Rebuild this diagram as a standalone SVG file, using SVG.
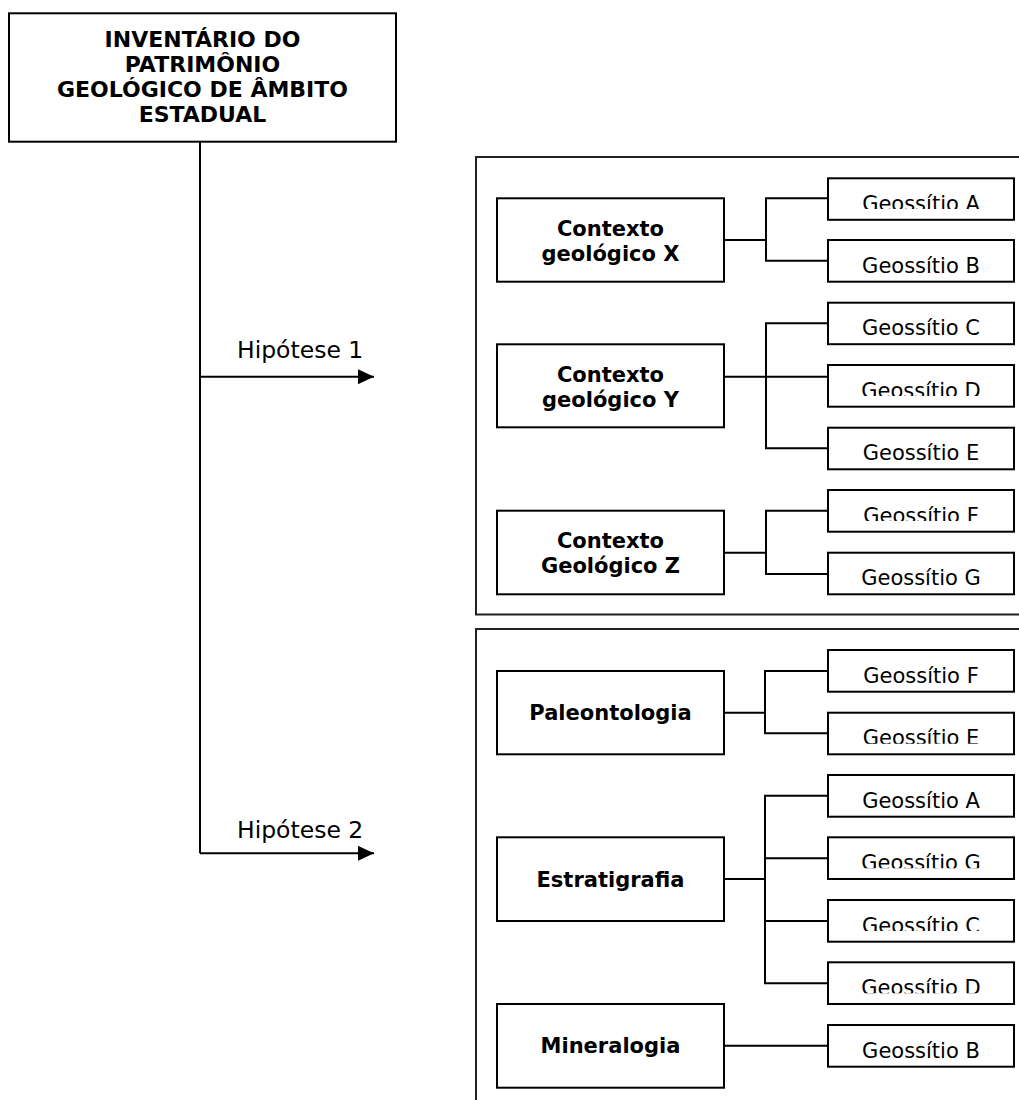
<svg xmlns="http://www.w3.org/2000/svg" width="1019" height="1100" viewBox="0 0 1019 1100">
<style>
  .box { fill: #fff; stroke: #000; stroke-width: 2; }
  .frame { fill: none; stroke: #222; stroke-width: 2; }
  .ln { fill: none; stroke: #000; stroke-width: 2; }
  .b { font-family: "DejaVu Sans", Verdana, sans-serif; font-weight: bold; font-size: 21px; fill: #000; text-anchor: middle; }
  .t { font-size: 22px; }
  .g { font-family: "DejaVu Sans", Verdana, sans-serif; font-size: 21px; fill: #000; text-anchor: middle; }
  .h { font-family: "DejaVu Sans", Verdana, sans-serif; font-size: 23.5px; fill: #000; }
</style>
<defs>
  <marker id="arr" markerWidth="16" markerHeight="15" refX="16" refY="7.5" orient="auto" markerUnits="userSpaceOnUse">
    <path d="M0,0 L16,7.5 L0,15 Z" fill="#000"/>
  </marker>
  <clipPath id="cA1"><rect x="828" y="178" width="186" height="31"/></clipPath>
  <clipPath id="cD1"><rect x="828" y="365" width="186" height="31"/></clipPath>
  <clipPath id="cF1"><rect x="828" y="490" width="186" height="31"/></clipPath>
  <clipPath id="cE2"><rect x="828" y="712.7" width="186" height="31"/></clipPath>
  <clipPath id="cG2"><rect x="828" y="837.3" width="186" height="31"/></clipPath>
  <clipPath id="cC2"><rect x="828" y="900" width="186" height="31"/></clipPath>
  <clipPath id="cD2"><rect x="828" y="962.3" width="186" height="31"/></clipPath>
</defs>

<path class="frame" d="M1021,157 H476 V614.5 H1021"/>
<path class="frame" d="M1021,629 H476 V1102"/>

<g id="connectors">
  <path class="ln" d="M200,142 V853.3"/>
  <path class="ln" d="M200,376.7 H374" marker-end="url(#arr)"/>
  <path class="ln" d="M200,853.3 H374" marker-end="url(#arr)"/>
  <path class="ln" d="M724,240 H766 M828,198.3 H766 V260.7 H828"/>
  <path class="ln" d="M724,376.7 H828 M828,323.3 H766 V448.3 H828"/>
  <path class="ln" d="M724,552.7 H766 M828,510.7 H766 V574 H828"/>
  <path class="ln" d="M724,712.7 H765 M828,671 H765 V733.3 H828"/>
  <path class="ln" d="M724,879 H765 M828,795.7 H765 V983.3 H828 M765,858.3 H828 M765,921 H828"/>
  <path class="ln" d="M724,1045.7 H828"/>
</g>

<text class="h" x="237" y="358">Hipótese 1</text>
<text class="h" x="237" y="838">Hipótese 2</text>

<g id="root">
  <rect class="box" x="9" y="13.3" width="387" height="128.4"/>
  <text class="b t" x="202.5" y="46.7">INVENTÁRIO DO</text>
  <text class="b t" x="202.5" y="71.7">PATRIMÔNIO</text>
  <text class="b t" x="202.5" y="96.7">GEOLÓGICO DE ÂMBITO</text>
  <text class="b t" x="202.5" y="121.7">ESTADUAL</text>
</g>

<g id="ctxX">
  <rect class="box" x="497" y="198.3" width="227" height="83.4"/>
  <text class="b" x="610.5" y="235.7">Contexto</text>
  <text class="b" x="610.5" y="260.7">geológico X</text>
</g>
<g id="ctxY">
  <rect class="box" x="497" y="344.3" width="227" height="83"/>
  <text class="b" x="610.5" y="381.5">Contexto</text>
  <text class="b" x="610.5" y="406.5">geológico Y</text>
</g>
<g id="ctxZ">
  <rect class="box" x="497" y="510.7" width="227" height="83.6"/>
  <text class="b" x="610.5" y="548.2">Contexto</text>
  <text class="b" x="610.5" y="573.2">Geológico Z</text>
</g>
<g id="paleo">
  <rect class="box" x="497" y="671" width="227" height="83.3"/>
  <text class="b" x="610.5" y="720.2">Paleontologia</text>
</g>
<g id="estrat">
  <rect class="box" x="497" y="837.3" width="227" height="83.7"/>
  <text class="b" x="610.5" y="886.5">Estratigrafia</text>
</g>
<g id="miner">
  <rect class="box" x="497" y="1004" width="227" height="83.7"/>
  <text class="b" x="610.5" y="1053.2">Mineralogia</text>
</g>

<g id="geoA1"><rect class="box" x="828" y="178.3" width="186" height="41.5"/><text class="g" x="921" y="211" clip-path="url(#cA1)">Geossítio A</text></g>
<g id="geoB1"><rect class="box" x="828" y="240" width="186" height="41.7"/><text class="g" x="921" y="272.7">Geossítio B</text></g>
<g id="geoC1"><rect class="box" x="828" y="302.7" width="186" height="41.5"/><text class="g" x="921" y="335.3">Geossítio C</text></g>
<g id="geoD1"><rect class="box" x="828" y="365" width="186" height="41.7"/><text class="g" x="921" y="397.7" clip-path="url(#cD1)">Geossítio D</text></g>
<g id="geoE1"><rect class="box" x="828" y="427.7" width="186" height="41.6"/><text class="g" x="921" y="460.3">Geossítio E</text></g>
<g id="geoF1"><rect class="box" x="828" y="490" width="186" height="41.7"/><text class="g" x="921" y="522.7" clip-path="url(#cF1)">Geossítio F</text></g>
<g id="geoG1"><rect class="box" x="828" y="552.7" width="186" height="41.6"/><text class="g" x="921" y="585.3">Geossítio G</text></g>

<g id="geoF2"><rect class="box" x="828" y="650" width="186" height="41.7"/><text class="g" x="921" y="682.7">Geossítio F</text></g>
<g id="geoE2"><rect class="box" x="828" y="712.7" width="186" height="41.6"/><text class="g" x="921" y="745.3" clip-path="url(#cE2)">Geossítio E</text></g>
<g id="geoA2"><rect class="box" x="828" y="775" width="186" height="41.7"/><text class="g" x="921" y="807.7">Geossítio A</text></g>
<g id="geoG2"><rect class="box" x="828" y="837.3" width="186" height="41.7"/><text class="g" x="921" y="870" clip-path="url(#cG2)">Geossítio G</text></g>
<g id="geoC2"><rect class="box" x="828" y="900" width="186" height="41.7"/><text class="g" x="921" y="932.7" clip-path="url(#cC2)">Geossítio C</text></g>
<g id="geoD2"><rect class="box" x="828" y="962.3" width="186" height="41.7"/><text class="g" x="921" y="995" clip-path="url(#cD2)">Geossítio D</text></g>
<g id="geoB2"><rect class="box" x="828" y="1025" width="186" height="41.7"/><text class="g" x="921" y="1057.7">Geossítio B</text></g>
</svg>
